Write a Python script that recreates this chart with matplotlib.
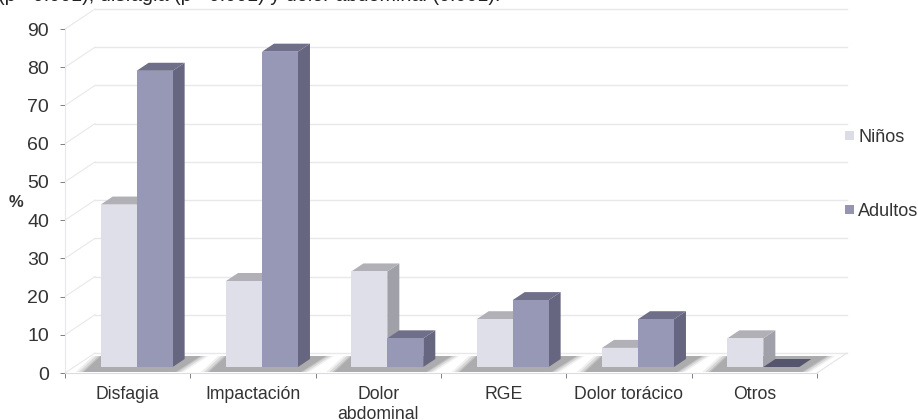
#!/usr/bin/env python3

import matplotlib
matplotlib.use('Agg')
import matplotlib.pyplot as plt
from matplotlib.patches import Polygon
from matplotlib.transforms import Affine2D

plt.rcParams['font.family'] = ['Liberation Sans', 'DejaVu Sans']

categorias = ['Disfagia', 'Impactación', 'Dolor\nabdominal', 'RGE', 'Dolor torácico', 'Otros']
ninos = [42.5, 22.5, 25, 12.5, 5, 7.5]
adultos = [77.5, 82.5, 7.5, 17.5, 12.5, 0]
yticks = list(range(0, 100, 10))

W, H = 918, 420
DPI = 100
# 3d look, in pixels
DX, DY = 12, 8      # bar depth
WX, WY = 30, 20     # wall offset
BASE_X, BASE_Y = 9, 6   # bar base relative to the front floor edge
BAR_W = 0.287       # in category units


def shifted(ax, dx, dy):
    return ax.transData + Affine2D().translate(dx, dy)


fig = plt.figure(figsize=(W / DPI, H / DPI), dpi=DPI)
ax = fig.add_axes([65 / W, 1 - 373 / H, 752 / W, 344 / H])
ax.set_xlim(0, 6)
ax.set_ylim(0, 90)
ax.patch.set_alpha(0)
for s in ['top', 'right']:
    ax.spines[s].set_visible(False)
ax.spines['left'].set_color('#e8e8ea')
ax.spines['bottom'].set_color('#dcdce0')

# back wall and floor
wall = shifted(ax, WX, WY)
for v in yticks:
    ax.plot([0, 6], [v, v], color='#e8e8ea', lw=1.0, transform=wall, clip_on=False, zorder=1)
    xa, ya = ax.transData.transform((0, v))
    ax.plot([xa, xa + WX], [ya, ya + WY], color='#e8e8ea', lw=0.8,
            transform=None, clip_on=False, zorder=1)
xa, ya = ax.transData.transform((6, 0))
ax.plot([xa, xa + WX], [ya, ya + WY], color='#e4e4e6', lw=0.8, transform=None, clip_on=False, zorder=1)

front = shifted(ax, BASE_X, BASE_Y)
for i in range(len(categorias)):
    xc = i + 0.5

    # floor shadow, stacked for a soft edge
    x0 = ax.transData.transform((xc - BAR_W, 0))[0] + BASE_X
    x1 = ax.transData.transform((xc + BAR_W, 0))[0] + BASE_X
    y0 = ax.transData.transform((0, 0))[1]
    for grow, a in zip([8, 5, 2, 0], [0.15, 0.25, 0.35, 0.5]):
        pts = [(x0 - 17 - grow, y0 + 1), (x1 + 3 + grow, y0 + 1),
               (x1 + 28 + grow, y0 + 17), (x0 - grow, y0 + 17)]
        ax.add_patch(Polygon(pts, closed=True, transform=None, fc='#98989a', ec='none',
                             alpha=a, zorder=2, clip_on=False))

    series = [(xc - BAR_W, ninos[i], '#dfdfe9', '#b0b0b6', '#a0a0a8'),
              (xc, adultos[i], '#9797b6', '#6f6f8a', '#666680')]
    for x, v, cara, techo, lado in series:
        pa, qa = ax.transData.transform((x, v))
        pb = ax.transData.transform((x + BAR_W, v))[0]
        pa += BASE_X
        pb += BASE_X
        qa += BASE_Y
        qb = ax.transData.transform((x, 0))[1] + BASE_Y
        if v == 0:
            ax.add_patch(Polygon([(pa, qa), (pb, qa), (pb + DX, qa + DY), (pa + DX, qa + DY)],
                                 transform=None, fc='#55556e', ec='none', zorder=4))
            continue
        ax.add_patch(Polygon([(pb, qb), (pb + DX, qb + DY), (pb + DX, qa + DY), (pb, qa)],
                             transform=None, fc=lado, ec='none', zorder=3 + x / 10))
        ax.add_patch(Polygon([(pa, qa), (pb, qa), (pb + DX, qa + DY), (pa + DX, qa + DY)],
                             transform=None, fc=techo, ec='none', zorder=3 + x / 10))
        ax.bar(x, v, width=BAR_W, align='edge', color=cara, transform=front, zorder=3 + x / 10 + 0.01)

ax.set_xticks(range(7))
ax.set_xticklabels([])
ax.set_yticks(yticks)
ax.tick_params(axis='y', length=3.6, width=0.7, color='#808080', labelsize=14,
               labelcolor='#333333', pad=8)
ax.tick_params(axis='x', length=3.6, width=0.7, color='#808080', direction='out')
for i, c in enumerate(categorias):
    ax.annotate(c, (i + 0.5, 0), xytext=(0, -13), textcoords='offset pixels', ha='center', va='top',
                fontsize=12.7, color='#333333', linespacing=1.25, annotation_clip=False)

fig.text(9 / W, 1 - 202 / H, '%', fontsize=12, fontweight='bold', color='#333333', ha='left', va='center')

# legend
for y, col, txt in [(136, '#dcdce6', 'Niños'), (210, '#9595b3', 'Adultos')]:
    fig.patches.append(plt.Rectangle((845 / W, 1 - (y + 4.5) / H), 9 / W, 9 / H, transform=fig.transFigure,
                                     fc=col, ec='none', figure=fig))
    fig.text(858 / W, 1 - (y + 1.5) / H, txt, fontsize=13, color='#333333', ha='left', va='center')

# cut-off sentence at the top edge of the picture
fig.text(-2 / W, 1 - 1 / H, '(p <0.001), disfagia (p <0.001) y dolor abdominal (0.001).',
         fontsize=14.2, color='#222222', ha='left', va='baseline')

fig.savefig('out.png', dpi=DPI)
